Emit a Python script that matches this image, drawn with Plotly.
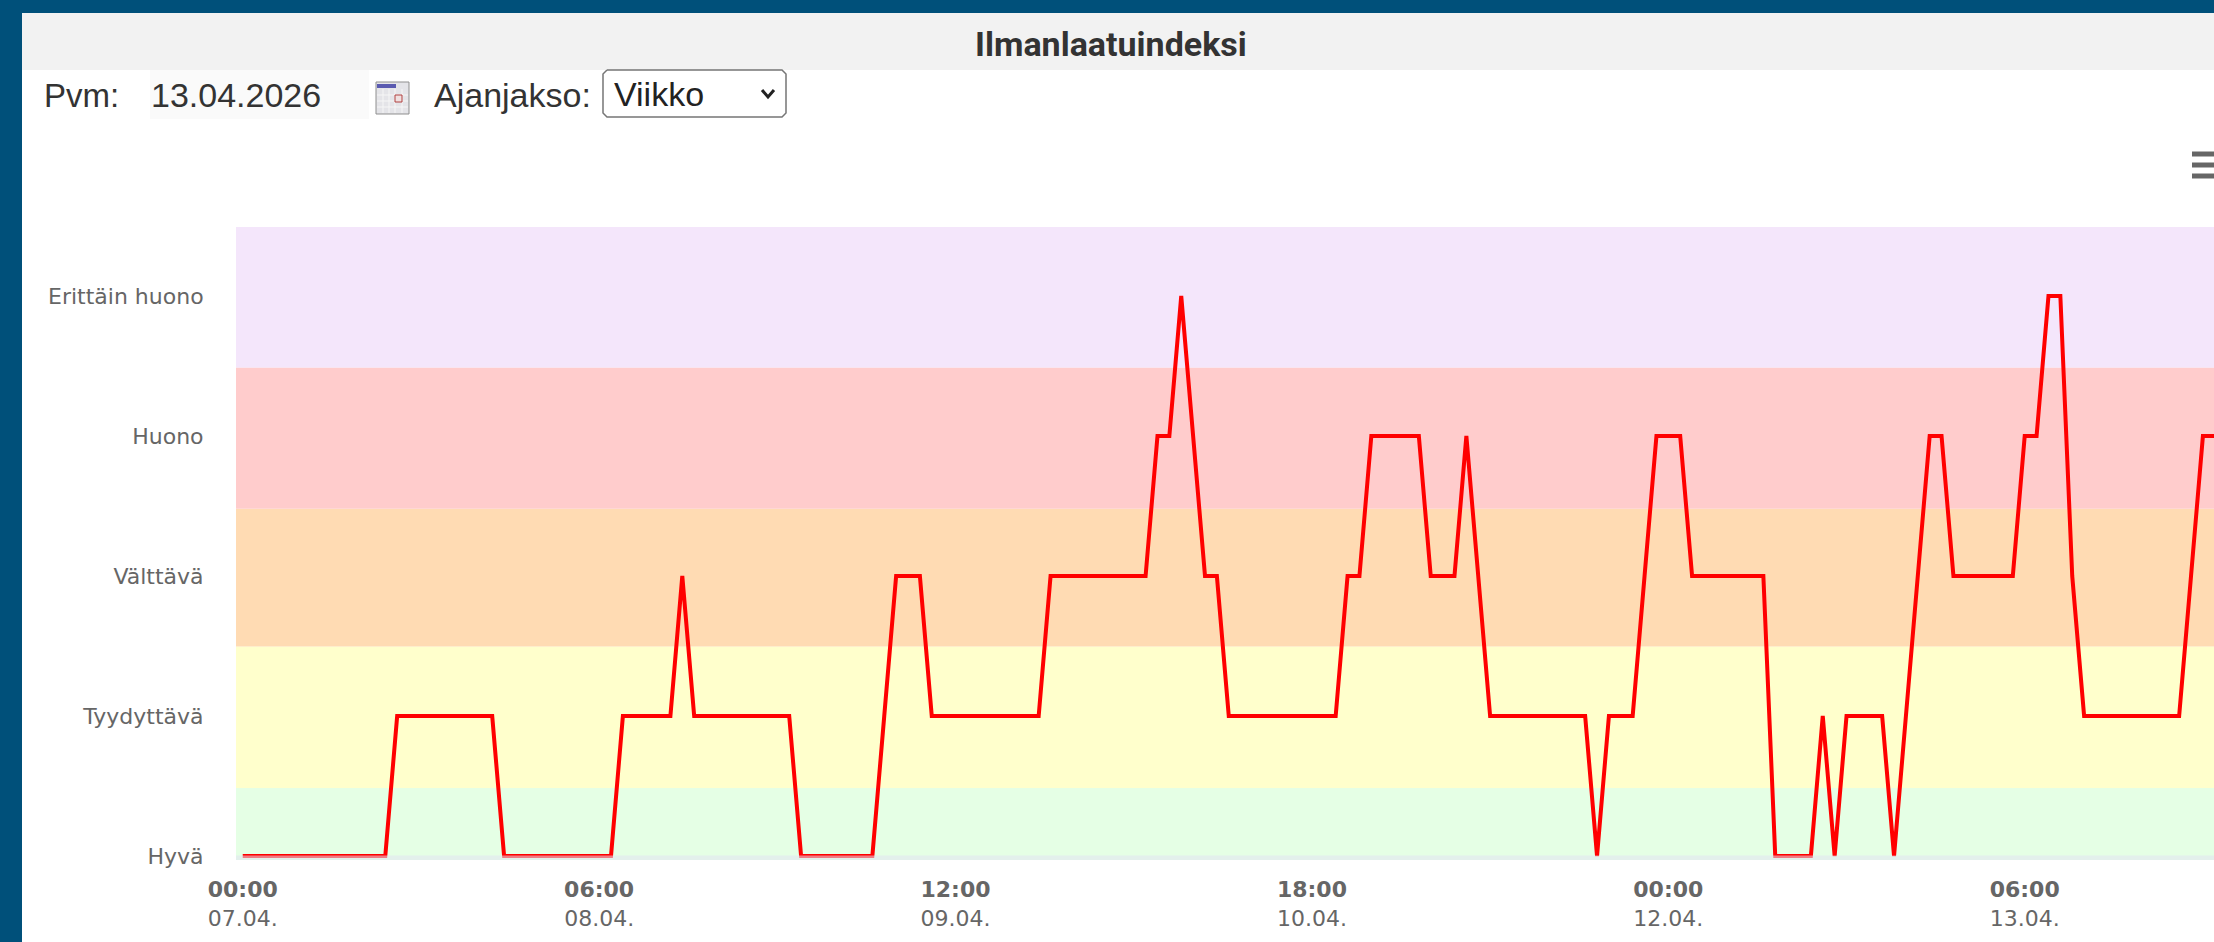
import pandas as pd
import plotly.graph_objects as go

W, H = 2214, 942
PL, PR, PT, PB = 236, 2214, 227, 860

levels = [0]*13 + [1]*9 + [0]*10 + [1]*5 + [2] + [1]*9 + [0]*7 + [1] + [2]*3 + [1]*10 + [2]*9 + \
         [3]*2 + [4] + [3] + [2]*2 + [1]*10 + [2]*2 + [3]*5 + [2]*3 + [3] + [2] + [1]*9 + [0] + \
         [1]*3 + [2] + [3]*3 + [2]*7 + [0]*4 + [1] + [0] + [1]*4 + [0] + [1] + [2] + [3]*2 + \
         [2]*6 + [3]*2 + [4]*2 + [2] + [1]*9 + [2] + [3]*2
times = pd.date_range("2026-04-07 00:00", periods=len(levels), freq="h")

y_tick_vals = [0, 1, 2, 3, 4]
y_tick_text = ["Hyvä", "Tyydyttävä", "Välttävä", "Huono", "Erittäin huono"]
x_tick_vals = ["2026-04-07 00:00", "2026-04-08 06:00", "2026-04-09 12:00",
               "2026-04-10 18:00", "2026-04-12 00:00", "2026-04-13 06:00"]
x_tick_times = ["00:00", "06:00", "12:00", "18:00", "00:00", "06:00"]
x_tick_dates = ["07.04.", "08.04.", "09.04.", "10.04.", "12.04.", "13.04."]
band_edges = [-0.0286, 0.486, 1.496, 2.48, 3.49, 4.493]
band_colors = ["#e5ffe5", "#ffffcc", "#ffdbb3", "#ffcccc", "#f4e6fb"]

def px(x):
    return (x - PL) / (PR - PL)

def py(y):
    return (PB - y) / (PB - PT)

def rect(x0, y0, x1, y1, fill, line=None, lw=0):
    return dict(type="rect", xref="paper", yref="paper", x0=px(x0), x1=px(x1), y0=py(y1), y1=py(y0),
                fillcolor=fill, line=dict(color=line or fill, width=lw), layer="above")

def path(points, color="#333", lw=2):
    d = "M " + " L ".join(f"{px(a):.5f},{py(b):.5f}" for a, b in points)
    return dict(type="path", xref="paper", yref="paper", path=d,
                line=dict(color=color, width=lw), layer="above")

def text(x, y, s, size, color="#333", family="Liberation Sans", anchor="left"):
    return dict(xref="paper", yref="paper", x=px(x), y=py(y), text=s, showarrow=False,
                xanchor=anchor, yanchor="middle", font=dict(size=size, color=color, family=family))

shapes = []
for lo, hi, c in zip(band_edges[:-1], band_edges[1:], band_colors):
    shapes.append(dict(type="rect", xref="paper", yref="y", x0=0, x1=1, y0=lo, y1=hi,
                       fillcolor=c, line=dict(width=0), layer="below"))
# axis line, lying over the series
shapes.append(dict(type="rect", xref="paper", yref="y", x0=0, x1=1, y0=-0.0286, y1=0.004,
                   fillcolor="rgba(225,228,242,0.55)", line=dict(width=0), layer="above"))

# page frame and header
shapes += [rect(0, 0, W, 13, "#00507a"), rect(0, 0, 22, H, "#00507a"), rect(22, 13, W, 70, "#f2f2f2")]
# date field
shapes.append(rect(150, 70, 369, 119, "#fafafa"))
# calendar icon
shapes.append(rect(376, 82, 409, 114, "#e4e4e8", "#8f8f8f", 1))
shapes.append(rect(377, 84, 396, 88, "#5a5ab0"))
for gx in (383, 389, 395, 402):
    shapes.append(path([(gx, 89), (gx, 113)], color="#f6f6f6", lw=1))
for gy in (95, 101, 107):
    shapes.append(path([(377, gy), (408, gy)], color="#f6f6f6", lw=1))
shapes.append(rect(395, 95, 402, 102, "#f0e0e0", "#b04040", 1))
# select box
r = 4
shapes.append(path([(603 + r, 70), (786 - r, 70), (786, 70 + r), (786, 117 - r), (786 - r, 117),
                    (603 + r, 117), (603, 117 - r), (603, 70 + r), (603 + r, 70)], color="#767676", lw=1.5))
shapes.append(path([(762, 90), (768, 97), (774, 90)], color="#222", lw=3))
# menu icon
for y in (154, 165, 176):
    shapes.append(rect(2192, y - 2.5, 2214, y + 2.5, "#666666"))

annotations = [
    text(1111, 44, "<b>Ilmanlaatuindeksi</b>", 34, family="Roboto", anchor="center"),
    text(42, 95, "Pvm:", 33),
    text(149, 95, "13.04.2026", 34),
    text(432, 95, "Ajanjakso:", 34),
    text(612, 94, "Viikko", 34, color="#222"),
]

fig = go.Figure(go.Scatter(x=times, y=levels, mode="lines",
                           line=dict(color="#ff0000", width=4), hoverinfo="skip", showlegend=False))
fig.update_layout(
    width=W, height=H, margin=dict(l=PL, r=W - PR, t=PT, b=H - PB),
    paper_bgcolor="white", plot_bgcolor="white", shapes=shapes, annotations=annotations,
    font=dict(family="DejaVu Sans", color="#666666"),
)
fig.update_xaxes(type="date", range=["2026-04-06 23:26", "2026-04-13 21:56"],
                 tickmode="array", tickvals=x_tick_vals,
                 ticktext=[f"<b>{a}</b><br>{b}" for a, b in zip(x_tick_times, x_tick_dates)],
                 ticks="outside", ticklen=10, tickcolor="rgba(0,0,0,0)", showgrid=False, zeroline=False,
                 showline=False, tickfont=dict(size=22, color="#666666", family="DejaVu Sans"), tickangle=0)
fig.update_yaxes(range=[-0.0286, 4.493], tickmode="array", tickvals=y_tick_vals, ticktext=y_tick_text,
                 ticks="outside", ticklen=27, tickcolor="rgba(0,0,0,0)", showgrid=False, zeroline=False,
                 showline=False, tickfont=dict(size=22, color="#666666", family="DejaVu Sans"))

fig.write_html("out.html", config=dict(displayModeBar=False),
               post_script="document.body.style.margin='0';document.body.style.overflow='hidden';")
